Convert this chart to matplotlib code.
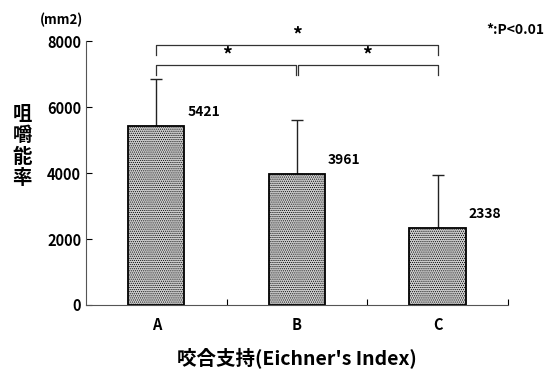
import numpy as np
import matplotlib.pyplot as plt

plt.rcParams['font.family'] = ['Noto Sans CJK JP', 'DejaVu Sans']
plt.rcParams['hatch.color'] = '#9a9a9a'
plt.rcParams['hatch.linewidth'] = 0.5

# 咬合支持の群ごとの咀嚼能率 (平均 ± SD)
groups = ['A', 'B', 'C']
means = [5421, 3961, 2338]
sd = [1430, 1640, 1590]

# 有意差の組み合わせ (群の添字)
sig_pairs = [(0, 2), (0, 1), (1, 2)]
sig_heights = [7880, 7270, 7270]

fig = plt.figure(figsize=(5.55, 3.71), dpi=100)
ax = fig.add_axes([0.155, 0.178, 0.76, 0.711])

x = np.arange(len(groups))
ax.bar(x, means, width=0.4, color='#cdcdcd', edgecolor='black', linewidth=1.3,
       hatch='........', zorder=2)
ax.errorbar(x, means, yerr=[np.zeros(len(sd)), sd], fmt='none', ecolor='#222222',
            elinewidth=1.0, capsize=4, capthick=1.0, zorder=1)

for xi, m in zip(x, means):
    ax.text(xi + 0.22, m + 430, f'{m}', fontsize=10, fontweight='bold',
            ha='left', va='center')

# 有意差ブラケット
leg = 300
for (i, j), h in zip(sig_pairs, sig_heights):
    xi = i + (0.01 if i == 1 else 0)
    xj = j - (0.01 if j == 1 else 0)
    ax.plot([xi, xi, xj, xj], [h - leg, h, h, h - leg], color='#333333',
            linewidth=0.9, clip_on=False)
    ax.text((i + j) / 2, h + 20, '*', fontsize=14, fontweight='bold',
            ha='center', va='bottom')

ax.set_xlim(-0.5, 2.5)
ax.set_ylim(0, 8000)
ax.set_yticks([0, 2000, 4000, 6000, 8000])
ax.set_xticks(x)
ax.set_xticklabels(groups)
ax.set_xticks([0.5, 1.5, 2.5], minor=True)
ax.tick_params(axis='y', direction='in', length=4, labelsize=10.5, width=0.8)
ax.tick_params(axis='x', which='major', length=0, labelsize=10.5, pad=9)
ax.tick_params(axis='x', which='minor', direction='in', length=4, width=0.8)
for lbl in ax.get_xticklabels() + ax.get_yticklabels():
    lbl.set_fontweight('bold')

for s in ['top', 'right']:
    ax.spines[s].set_visible(False)
ax.spines['left'].set_color('#555555')
ax.spines['bottom'].set_color('#555555')

ax.set_xlabel("咬合支持(Eichner's Index)", fontsize=14, fontweight='bold', labelpad=10)
fig.text(0.04, 0.605, '咀\n嚼\n能\n率', fontsize=14, fontweight='bold',
         ha='center', va='center', linespacing=1.15)
fig.text(0.111, 0.945, '(mm2)', fontsize=9.5, fontweight='bold', ha='center', va='center')
fig.text(0.877, 0.918, '*:P<0.01', fontsize=10, fontweight='bold', ha='left', va='center')

fig.savefig('out.png', dpi=100)
